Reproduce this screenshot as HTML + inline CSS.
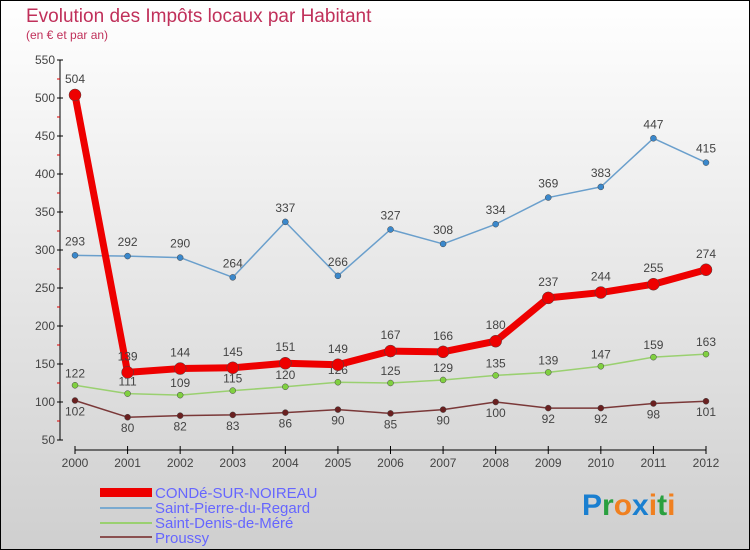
<!DOCTYPE html>
<html><head><meta charset="utf-8">
<style>
html,body{margin:0;padding:0}
body{width:750px;height:550px;overflow:hidden;font-family:"Liberation Sans",sans-serif}
svg{display:block}
</style></head>
<body>
<svg id="chart" width="750" height="550" xmlns="http://www.w3.org/2000/svg">
<defs><linearGradient id="bg" x1="0" y1="0" x2="0" y2="1"><stop offset="0" stop-color="#ffffff"/><stop offset="1" stop-color="#cfcfcf"/></linearGradient></defs>
<rect x="0.5" y="0.5" width="749" height="549" fill="url(#bg)" stroke="#000"/>
<text x="26" y="22" font-size="19" fill="#c0305a">Evolution des Impôts locaux par Habitant</text>
<text x="26" y="39" font-size="12" fill="#c0305a">(en € et par an)</text>
<g id="axes"></g>
<g id="series"></g>
<g font-size="15" fill="#6666ff">
<rect x="100" y="488" width="52" height="9" fill="#e00"/>
<text x="155" y="498">CONDé-SUR-NOIREAU</text>
<line x1="100" y1="508" x2="152" y2="508" stroke="#7aaad0" stroke-width="2"/>
<text x="155" y="513">Saint-Pierre-du-Regard</text>
<line x1="100" y1="523" x2="152" y2="523" stroke="#9ad070" stroke-width="2"/>
<text x="155" y="528">Saint-Denis-de-Méré</text>
<line x1="100" y1="537" x2="152" y2="537" stroke="#8a5050" stroke-width="2"/>
<text x="155" y="543">Proussy</text>
</g>
<g font-size="30" font-weight="bold" font-family="Liberation Sans, sans-serif">
<text x="582" y="515"><tspan fill="#1a7fd0">P</tspan><tspan fill="#2aa040">r</tspan><tspan fill="#f08020">o</tspan><tspan fill="#1a7fd0">x</tspan><tspan fill="#f08020">i</tspan><tspan fill="#2aa040">t</tspan><tspan fill="#f08020">i</tspan></text>
</g>
</svg>
<script>
const years=[2000,2001,2002,2003,2004,2005,2006,2007,2008,2009,2010,2011,2012];
const conde=[504,139,144,145,151,149,167,166,180,237,244,255,274];
const stPierre=[293,292,290,264,337,266,327,308,334,369,383,447,415];
const stDenis=[122,111,109,115,120,126,125,129,135,139,147,159,163];
const proussy=[102,80,82,83,86,90,85,90,100,92,92,98,101];
const yTicks=[50,100,150,200,250,300,350,400,450,500,550];
const NS="http://www.w3.org/2000/svg";
const x=i=>75+i*(706-75)/(years.length-1);
const y=v=>440-(v-50)*0.76;
function mk(tag,attrs,parent){const e=document.createElementNS(NS,tag);for(const k in attrs)e.setAttribute(k,attrs[k]);parent.appendChild(e);return e;}
const axes=document.getElementById('axes');
const ya=mk('line',{x1:60,y1:y(550),x2:60,y2:y(50),stroke:'#000'},axes);


for(let v=75;v<550;v+=50){mk('line',{x1:57,x2:60,y1:y(v),y2:y(v),stroke:'#d00'},axes);}
yTicks.forEach(v=>{
 mk('line',{x1:57,x2:63,y1:y(v),y2:y(v),stroke:'#000'},axes);
 const t=mk('text',{x:55,y:y(v)+4,'text-anchor':'end','font-size':12,fill:'#444'},axes);
 t.textContent=v;
 
 
});
const xa=mk('line',{x1:75,y1:450,x2:706,y2:450,stroke:'#000'},axes);


years.forEach((yr,i)=>{
 mk('line',{x1:x(i),x2:x(i),y1:446,y2:454,stroke:'#000'},axes);
 const t=mk('text',{x:x(i),y:467,'text-anchor':'middle','font-size':12,fill:'#444'},axes);
 t.textContent=yr;
 
 
});
const sg=document.getElementById('series');
function series(data,name,color,w,r,dotFill,labelDy){
 const g=mk('g',{},sg);
 
 
 mk('polyline',{points:data.map((v,i)=>x(i)+','+y(v)).join(' '),fill:'none',stroke:color,'stroke-width':w,'stroke-linejoin':'round'},g);
 data.forEach((v,i)=>{
  const c=mk('circle',{cx:x(i),cy:y(v),r:r,fill:dotFill,stroke:'#444','stroke-width':0.5},g);
  
  
  const t=mk('text',{x:x(i),y:y(v)+labelDy,'text-anchor':'middle','font-size':12,fill:'#444'},g);
  t.textContent=v;
  
  
 });
}
series(proussy,'proussy-line','#7a3838',1.5,3,'#6a2020',15);
series(stDenis,'saint-denis-line','#9ad070',1.5,3,'#80d040',-8);
series(stPierre,'saint-pierre-line','#6a9fcc',1.5,3,'#3a88cc',-10);
series(conde,'conde-line','#ee0000',7,6,'#ee0000',-12);
</script>
</body></html>
